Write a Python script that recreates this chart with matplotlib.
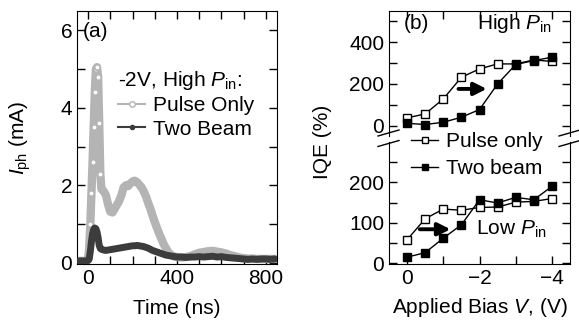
import numpy as np
import matplotlib
matplotlib.use('Agg')
import matplotlib.pyplot as plt
from matplotlib.ticker import MultipleLocator, FixedLocator
from matplotlib.lines import Line2D

plt.rcParams['font.family'] = ['Liberation Sans', 'DejaVu Sans']
plt.rcParams['mathtext.fontset'] = 'custom'
plt.rcParams['mathtext.rm'] = 'Liberation Sans'
plt.rcParams['mathtext.it'] = 'Liberation Sans:italic'
plt.rcParams['font.size'] = 15
plt.rcParams['axes.unicode_minus'] = True

# ---- panel (a): photocurrent transients ----
t_ns = [-40, -30, -20, -10, 0, 5, 10, 15, 20, 25, 30, 35, 40, 45, 50, 55, 60,
        70, 80, 90, 100, 110, 120, 130, 140, 150, 160, 170, 180, 190, 200,
        210, 220, 230, 240, 250, 260, 270, 280, 290, 300, 310, 320, 330, 340,
        350, 360, 370, 380, 390, 400, 420, 440, 460, 480, 500, 520, 540, 560,
        580, 600, 620, 640, 660, 680, 700, 720, 740, 760, 780, 800, 820, 840]
i_pulse = [0.05, 0.05, 0.05, 0.05, 0.08, 0.4, 1.0, 1.8, 2.6, 3.5, 4.4, 5.0, 5.05,
           4.8, 3.6, 2.3, 1.9, 1.85, 1.75, 1.5, 1.32, 1.3, 1.4, 1.5, 1.6, 1.75,
           1.95, 2.0, 1.98, 2.05, 2.1, 2.12, 2.08, 2.02, 1.95, 1.85, 1.72, 1.55,
           1.4, 1.22, 1.05, 0.9, 0.75, 0.62, 0.48, 0.38, 0.28, 0.22, 0.18, 0.16,
           0.15, 0.14, 0.15, 0.17, 0.22, 0.26, 0.28, 0.3, 0.31, 0.29, 0.27, 0.24,
           0.2, 0.17, 0.14, 0.12, 0.11, 0.11, 0.1, 0.1, 0.1, 0.1, 0.1]
i_two = [0.05, 0.05, 0.05, 0.05, 0.06, 0.1, 0.3, 0.55, 0.75, 0.86, 0.9, 0.88, 0.8,
         0.65, 0.45, 0.37, 0.35, 0.33, 0.32, 0.33, 0.34, 0.35, 0.36, 0.37, 0.38,
         0.39, 0.4, 0.41, 0.42, 0.43, 0.44, 0.44, 0.45, 0.44, 0.43, 0.42, 0.4,
         0.38, 0.35, 0.32, 0.3, 0.28, 0.26, 0.24, 0.22, 0.2, 0.19, 0.18, 0.17,
         0.16, 0.15, 0.15, 0.14, 0.15, 0.15, 0.16, 0.15, 0.16, 0.17, 0.15, 0.16,
         0.14, 0.13, 0.12, 0.11, 0.1, 0.09, 0.1, 0.09, 0.1, 0.1, 0.09, 0.1]

# ---- panel (b): IQE vs bias ----
bias = [0, -0.5, -1, -1.5, -2, -2.5, -3, -3.5, -4]
iqe_high_pulse = [37, 56, 128, 232, 272, 296, 296, 315, 308]
iqe_high_two = [11, 5, 16, 40, 77, 200, 293, 312, 328]
iqe_low_pulse = [58, 110, 134, 131, 138, 139, 151, 153, 160]
iqe_low_two = [15, 26, 62, 95, 157, 149, 163, 157, 190]

W, H = 579, 328
fig = plt.figure(figsize=(W / 100, H / 100), dpi=100)

def px_box(x0, y0, x1, y1):
    return [x0 / W, 1 - y1 / H, (x1 - x0) / W, (y1 - y0) / H]

tick_kw = dict(direction='in', length=6, width=1, top=True, right=True)

ax1 = fig.add_axes(px_box(77, 11, 277, 264))
c_pulse = '#b4b4b4'
c_two = '#3c3c3c'
ax1.plot(t_ns, i_pulse, color=c_pulse, linewidth=6, zorder=2,
         solid_capstyle='round')
ax1.plot(t_ns, i_pulse, linestyle='none', marker='o', markersize=4,
         markerfacecolor='white', markeredgecolor=c_pulse, markeredgewidth=1.2,
         markevery=slice(5, 16), zorder=3)
ax1.plot(t_ns, i_two, color=c_two, linewidth=5, zorder=4,
         solid_capstyle='round')
ax1.set_xlim(-50, 850)
ax1.set_ylim(-0.03, 6.5)
ax1.xaxis.set_major_locator(FixedLocator([0, 400, 800]))
ax1.xaxis.set_minor_locator(MultipleLocator(100))
ax1.yaxis.set_major_locator(MultipleLocator(2))
ax1.yaxis.set_minor_locator(MultipleLocator(1))
ax1.tick_params(which='both', **tick_kw)
ax1.set_xlabel('Time (ns)', labelpad=8)
ax1.set_ylabel(r'$I_{\rm ph}$ (mA)', labelpad=20)
ax1.text(0.03, 0.955, '(a)', transform=ax1.transAxes, ha='left', va='top')

h_pulse = Line2D([], [], color=c_pulse, linewidth=1.5, marker='o', markersize=4,
                 markerfacecolor='white', markeredgecolor=c_pulse)
h_two = Line2D([], [], color=c_two, linewidth=1.5, marker='o', markersize=3)
leg = ax1.legend([h_pulse, h_two], ['Pulse Only', 'Two Beam'],
                 title=r'-2V, High $P_{\rm in}$:', title_fontsize=15,
                 loc='upper left', bbox_to_anchor=(0.205, 0.77), frameon=False,
                 handlelength=1.3, handletextpad=0.4, labelspacing=0.2,
                 borderpad=0, borderaxespad=0, alignment='left')

# ---- panel (b) ----
ax_up = fig.add_axes(px_box(389, 11, 570, 136))
ax_lo = fig.add_axes(px_box(389, 142, 570, 264))

for ax, yp, yt in [(ax_up, iqe_high_pulse, iqe_high_two),
                   (ax_lo, iqe_low_pulse, iqe_low_two)]:
    ax.plot(bias, yp, color='black', linewidth=1, marker='s', markersize=5.5,
            markerfacecolor='white', markeredgecolor='black', zorder=3)
    ax.plot(bias, yt, color='black', linewidth=1, marker='s', markersize=5.5,
            markerfacecolor='black', zorder=4)
    ax.set_xlim(0.5, -4.5)
    ax.xaxis.set_major_locator(FixedLocator([0, -2, -4]))
    ax.xaxis.set_minor_locator(MultipleLocator(1))

ax_up.set_ylim(-50, 550)
ax_up.yaxis.set_major_locator(FixedLocator([0, 200, 400]))
ax_up.yaxis.set_minor_locator(FixedLocator([100, 300, 500]))
ax_up.spines['bottom'].set_visible(False)
ax_up.tick_params(which='both', direction='in', length=6, width=1,
                  top=True, right=True, bottom=False, labelbottom=False)

ax_lo.set_ylim(-2, 300)
ax_lo.yaxis.set_major_locator(FixedLocator([0, 100, 200]))
ax_lo.yaxis.set_minor_locator(FixedLocator([50, 150, 250]))
ax_lo.spines['top'].set_visible(False)
ax_lo.tick_params(which='both', direction='in', length=6, width=1,
                  top=False, right=True)
ax_lo.set_xlabel('Applied Bias $V$, (V)', labelpad=6)

ax_up.text(0.08, 0.90, '(b)', transform=ax_up.transAxes, ha='left', va='center')
ax_up.text(0.90, 0.90, r'High $P_{\rm in}$', transform=ax_up.transAxes,
           ha='right', va='center')
ax_lo.text(0.87, 0.28, r'Low $P_{\rm in}$', transform=ax_lo.transAxes,
           ha='right', va='center')

arrow_kw = dict(arrowstyle='-|>,head_length=0.5,head_width=0.25',
                color='black', lw=2.8, shrinkA=0, shrinkB=0)
ax_up.annotate('', xy=(-2.2, 176), xytext=(-1.42, 176), arrowprops=arrow_kw)
ax_lo.annotate('', xy=(-1.2, 84), xytext=(-0.35, 84), arrowprops=arrow_kw)

h_p = Line2D([], [], color='black', linewidth=1, marker='s', markersize=5,
             markerfacecolor='white')
h_t = Line2D([], [], color='black', linewidth=1, marker='s', markersize=5,
             markerfacecolor='black')
fig.legend([h_p, h_t], ['Pulse only', 'Two beam'], loc='upper left',
           bbox_to_anchor=(411 / W, 1 - 132 / H), frameon=False,
           handlelength=1.3, handletextpad=0.4, labelspacing=0.4,
           borderpad=0, borderaxespad=0)

fig.text(322 / W, 1 - 142 / H, 'IQE (%)', rotation=90, ha='center',
         va='center')

# axis break marks
for xc in (389, 570):
    for yc in (133, 143.5):
        fig.add_artist(Line2D([(xc - 11) / W, (xc + 10) / W],
                              [1 - (yc + 3) / H, 1 - (yc - 3) / H],
                              color='black', linewidth=1))

fig.savefig('out.png', dpi=100)
